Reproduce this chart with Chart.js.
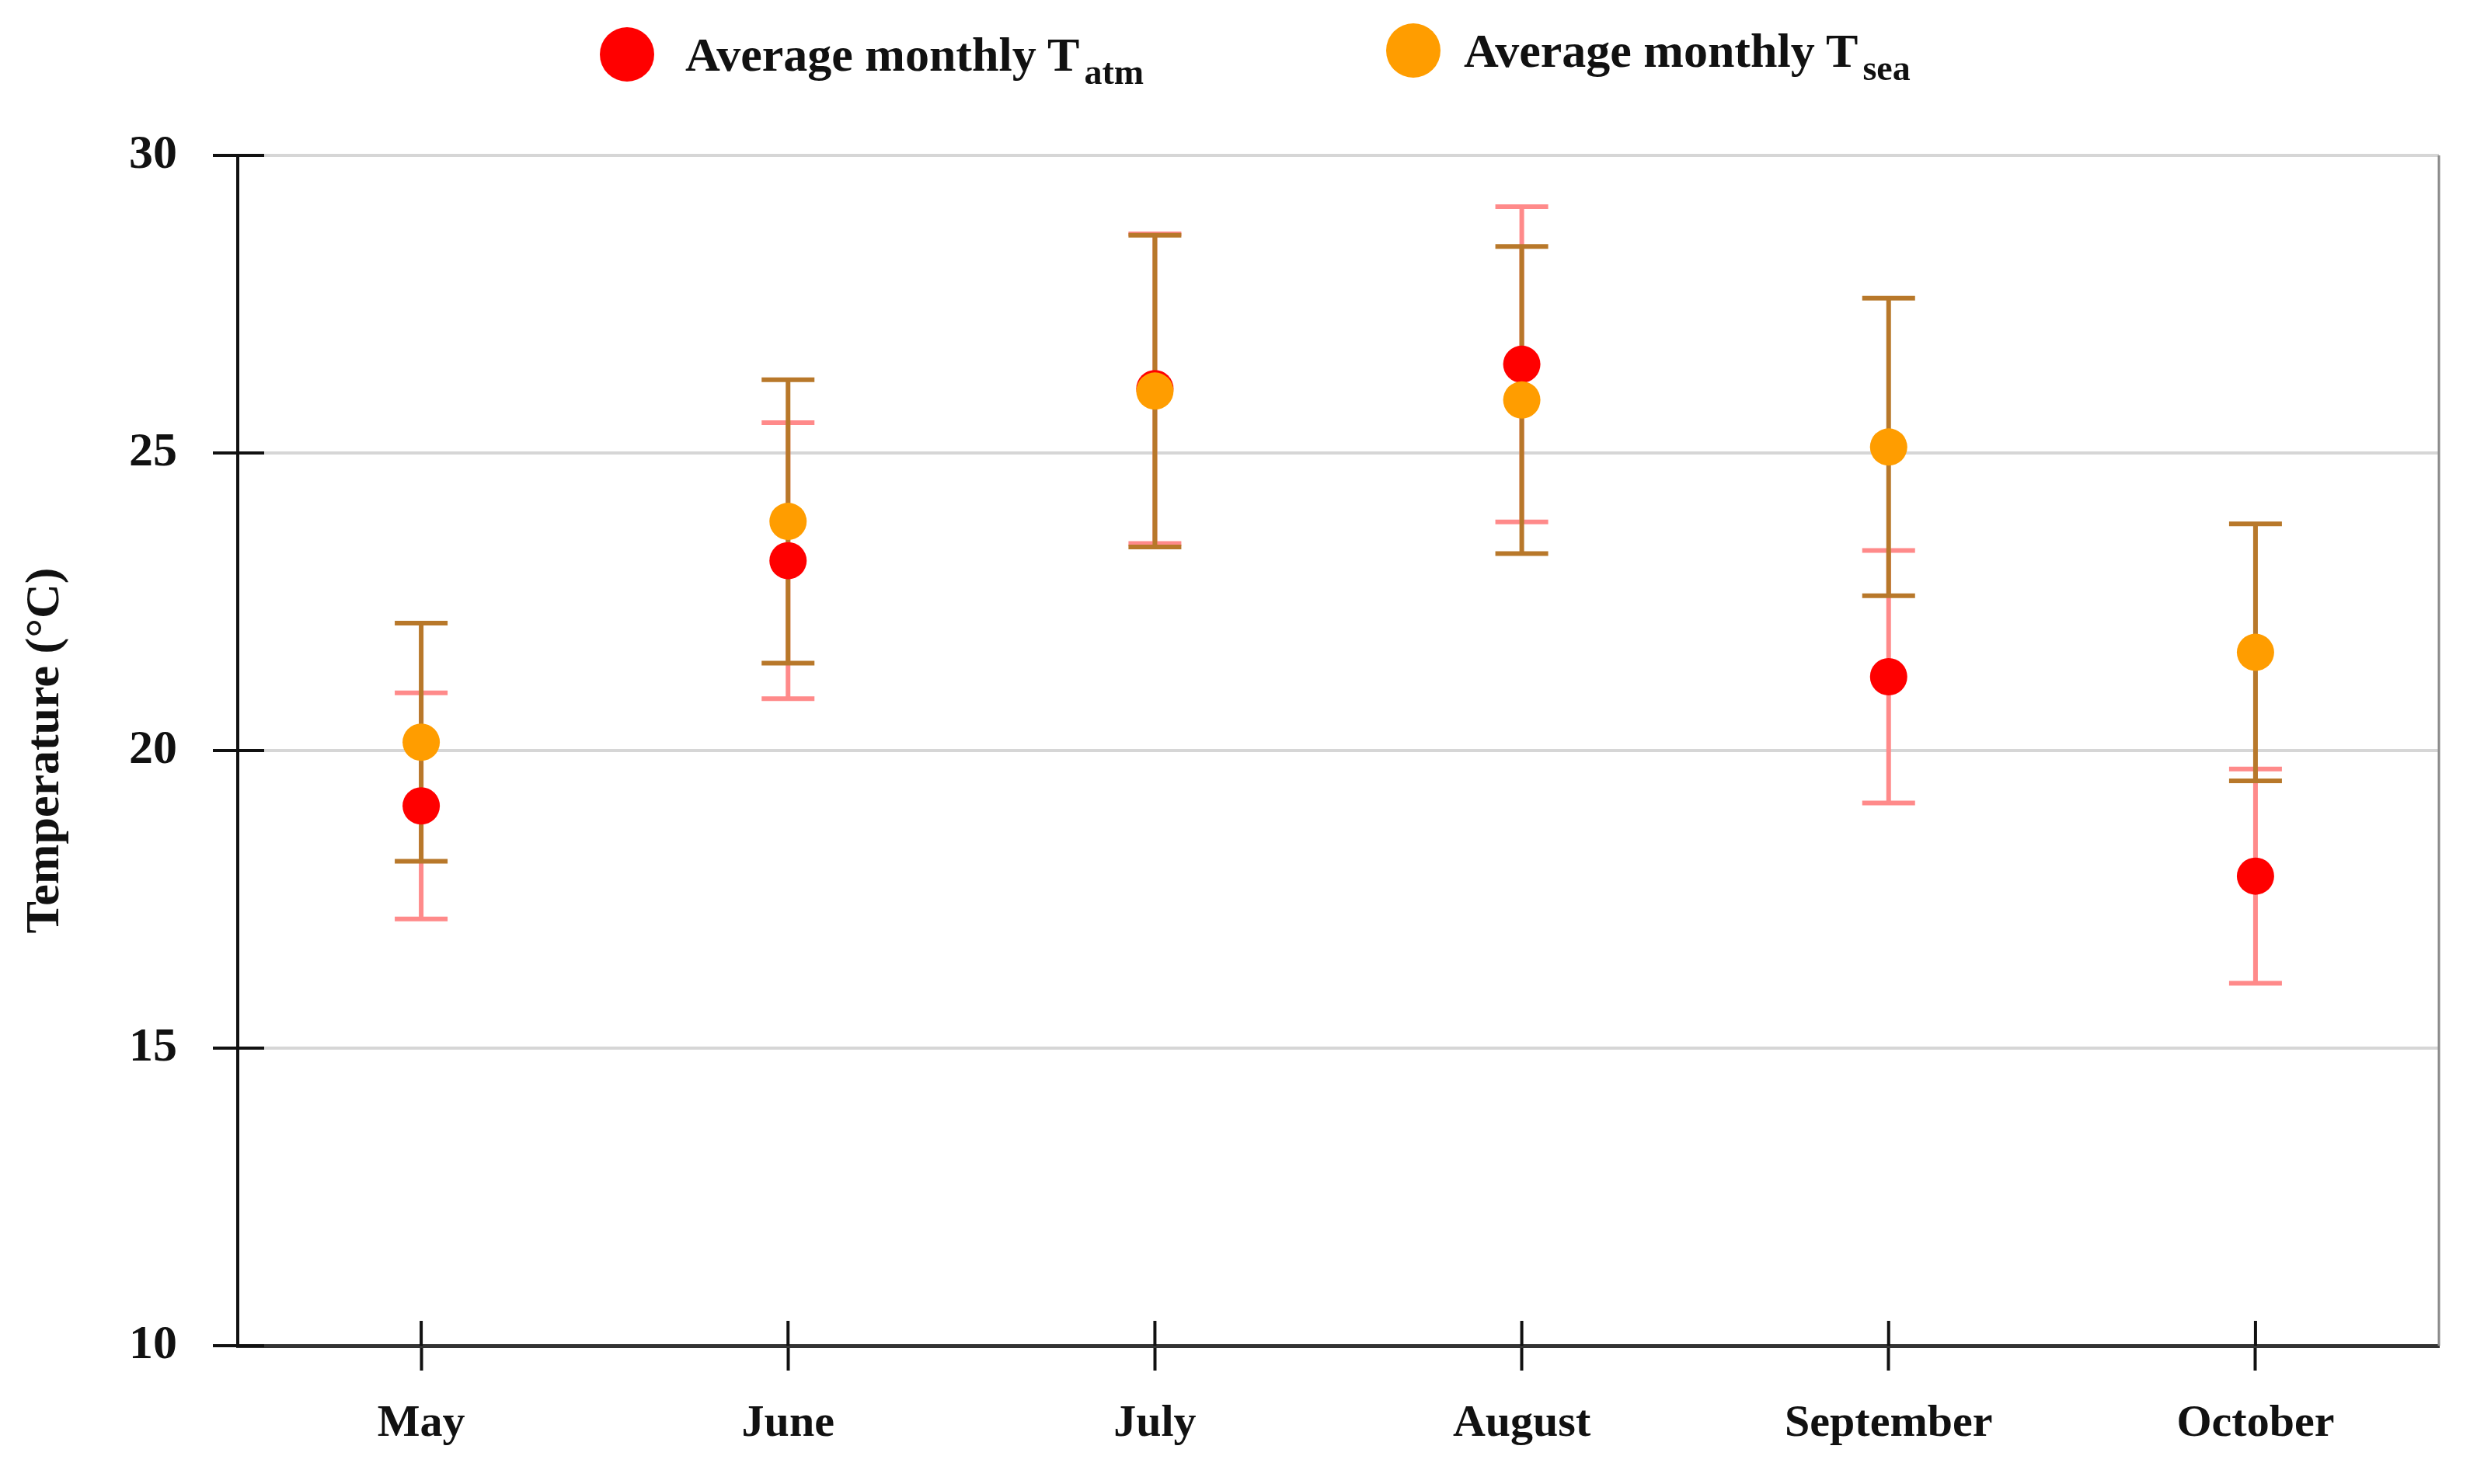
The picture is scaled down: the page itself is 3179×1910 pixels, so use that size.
<!DOCTYPE html>
<html>
<head>
<meta charset="utf-8">
<script src="https://cdn.jsdelivr.net/npm/chart.js@4.4.1/dist/chart.umd.min.js"></script>
<style>
  html, body { margin: 0; padding: 0; background: #ffffff; }
  #wrap { position: relative; width: 3179px; height: 1910px; }
  #chart { position: absolute; left: 0; top: 0; }
  #legend { position: absolute; left: 0; top: 0; width: 3179px; height: 140px;
            font-family: "Liberation Serif", "Times New Roman", serif; font-weight: bold; color: #111; }
  .item { position: absolute; display: flex; align-items: flex-start; height: 70px; }
  .item:nth-child(1) { left: 772px; top: 35px; }
  .item:nth-child(2) { left: 1784px; top: 30px; }
  .dot { width: 70px; height: 70px; border-radius: 50%; margin-right: 40px; flex: none; }
  .item:nth-child(2) .dot { margin-right: 30px; }
  .txt { display: block; font-size: 62px; line-height: 70px; height: 70px; white-space: nowrap; }
  .txt .sub { font-size: 46px; position: relative; top: 17px; vertical-align: baseline; margin-left: 6px; }
</style>
</head>
<body>
<div id="wrap">
  <canvas id="chart" width="3179" height="1910"></canvas>
  <div id="legend"></div>
</div>
<script>
const months = ["May", "June", "July", "August", "September", "October"];
const atmMean = [19.07, 23.19, 26.08, 26.49, 21.24, 17.89];
const atmErr  = [1.90, 2.32, 2.60, 2.65, 2.12, 1.80];
const seaMean = [20.14, 23.85, 26.04, 25.89, 25.10, 21.65];
const seaErr  = [2.00, 2.38, 2.62, 2.58, 2.50, 2.16];
const yTicks  = [10, 15, 20, 25, 30];

const seriesNames = [["Average monthly T", "atm"], ["Average monthly T", "sea"]];
const dotColors = ["#ff0000", "#ff9d00"];
const barColors = ["#ff8a8a", "#b8782a"];
const errs = [atmErr, seaErr];

const errorBarPlugin = {
  id: 'errorBars',
  beforeDatasetsDraw(chart) {
    const ctx = chart.ctx;
    const xs = chart.scales.x, ys = chart.scales.y;
    const area = chart.chartArea;
    ctx.save();
    // right frame line
    ctx.strokeStyle = '#8a8a8a';
    ctx.lineWidth = 3;
    ctx.beginPath();
    ctx.moveTo(area.right, area.top);
    ctx.lineTo(area.right, area.bottom);
    ctx.stroke();
    // inner tick marks
    ctx.strokeStyle = '#111';
    ctx.lineWidth = 4;
    ys.ticks.forEach(t => {
      const y = ys.getPixelForValue(t.value);
      ctx.beginPath(); ctx.moveTo(area.left, y); ctx.lineTo(area.left + 34, y); ctx.stroke();
    });
    xs.ticks.forEach((t, i) => {
      const x = xs.getPixelForTick(i);
      ctx.beginPath(); ctx.moveTo(x, area.bottom); ctx.lineTo(x, area.bottom - 32); ctx.stroke();
    });
    // error bars
    chart.data.datasets.forEach((ds, di) => {
      const e = errs[di];
      ctx.strokeStyle = barColors[di];
      ctx.lineWidth = 6;
      ds.data.forEach((v, i) => {
        const x = xs.getPixelForValue(i);
        const yHi = ys.getPixelForValue(v + e[i]);
        const yLo = ys.getPixelForValue(v - e[i]);
        const cap = 34;
        ctx.beginPath();
        ctx.moveTo(x, yHi); ctx.lineTo(x, yLo);
        ctx.moveTo(x - cap, yHi); ctx.lineTo(x + cap, yHi);
        ctx.moveTo(x - cap, yLo); ctx.lineTo(x + cap, yLo);
        ctx.stroke();
      });
    });
    ctx.restore();
  }
};

const htmlLegendPlugin = {
  id: 'htmlLegend',
  afterUpdate(chart) {
    const box = document.getElementById('legend');
    box.innerHTML = '';
    chart.data.datasets.forEach((ds, i) => {
      const item = document.createElement('div');
      item.className = 'item';
      const dot = document.createElement('span');
      dot.className = 'dot';
      dot.style.background = ds.backgroundColor;
      const txt = document.createElement('span');
      txt.className = 'txt';
      txt.appendChild(document.createTextNode(seriesNames[i][0]));
      const sub = document.createElement('sub');
      sub.className = 'sub';
      sub.textContent = seriesNames[i][1];
      txt.appendChild(sub);
      item.appendChild(dot);
      item.appendChild(txt);
      box.appendChild(item);
    });
  }
};

const serif = '"Liberation Serif", "Times New Roman", serif';

new Chart(document.getElementById('chart'), {
  type: 'line',
  data: {
    labels: months,
    datasets: [
      { label: seriesNames[0].join(''), data: atmMean, showLine: false, order: 1,
        backgroundColor: dotColors[0], borderColor: dotColors[0], pointRadius: 24, pointBorderWidth: 0, pointHoverRadius: 24 },
      { label: seriesNames[1].join(''), data: seaMean, showLine: false, order: 0,
        backgroundColor: dotColors[1], borderColor: dotColors[1], pointRadius: 24, pointBorderWidth: 0, pointHoverRadius: 24 }
    ]
  },
  options: {
    responsive: false,
    devicePixelRatio: 1,
    animation: false,
    layout: { padding: { top: 200, right: 40, left: 0, bottom: 0 } },
    plugins: { legend: { display: false }, tooltip: { enabled: false } },
    scales: {
      x: {
        type: 'category',
        offset: true,
        grid: { drawOnChartArea: false, drawTicks: true, tickLength: 32, tickColor: '#111', tickWidth: 4 },
        border: { display: true, color: '#333', width: 5 },
        ticks: { color: '#111', font: { family: serif, size: 58, weight: 'bold' }, padding: 34, maxRotation: 0 },
        afterFit(scale) { scale.height = 178; }
      },
      y: {
        min: 10, max: 30,
        afterBuildTicks(scale) { scale.ticks = yTicks.map(v => ({ value: v })); },
        grid: { color: '#d6d6d6', lineWidth: 4, drawTicks: true, tickLength: 32, tickColor: '#111', tickWidth: 4 },
        border: { display: true, color: '#111', width: 4 },
        ticks: { color: '#111', font: { family: serif, size: 62, weight: 'bold' }, padding: 46 },
        title: { display: true, text: 'Temperature (°C)', color: '#111',
                 font: { family: serif, size: 62, weight: 'bold' }, padding: { top: 22, bottom: 0 } },
        afterFit(scale) { scale.width = 306; }
      }
    }
  },
  plugins: [errorBarPlugin, htmlLegendPlugin]
});
</script>
</body>
</html>
